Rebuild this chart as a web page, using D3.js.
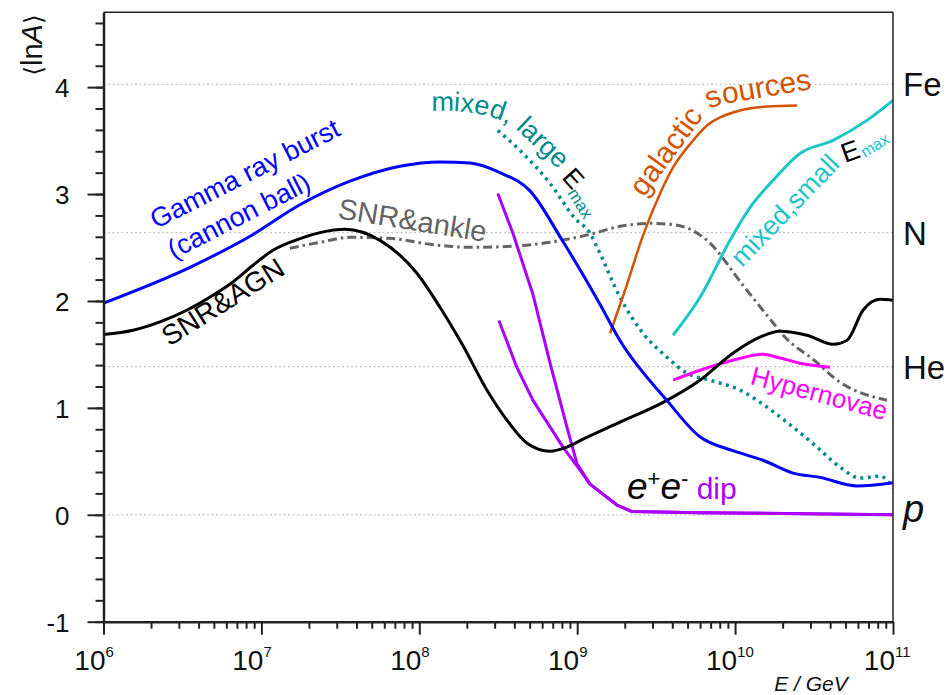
<!DOCTYPE html>
<html>
<head>
<meta charset="utf-8">
<script src="https://cdn.jsdelivr.net/npm/d3@7"></script>
<style>
  body { margin: 0; background: #fff; }
  svg text { font-family: "Liberation Sans", Arial, sans-serif; }
</style>
</head>
<body>
<svg id="chart" width="946" height="695"></svg>
<script>
// values: log10(E/GeV) and <lnA>
const grbLogE = [6.0, 6.548, 6.928, 7.244, 7.561, 7.878, 8.131, 8.321, 8.511, 8.701, 8.904, 9.144, 9.271, 9.568, 9.777, 9.986, 10.177, 10.367, 10.538, 10.772, 11.0];
const grbLnA  = [1.98, 2.315, 2.605, 2.90, 3.12, 3.26, 3.30, 3.29, 3.20, 3.03, 2.57, 1.97, 1.63, 1.07, 0.73, 0.60, 0.51, 0.39, 0.35, 0.27, 0.30];

const snrAgnLogE = [6.0, 6.187, 6.358, 6.527, 6.693, 6.820, 6.947, 7.073, 7.244, 7.371, 7.529, 7.751, 7.985, 8.131, 8.277, 8.429, 8.555, 8.682, 8.828, 8.935, 9.037, 9.271, 9.556, 9.777, 9.986, 10.157, 10.284, 10.455, 10.620, 10.709, 10.810, 10.918, 11.0];
const snrAgnLnA  = [1.686, 1.726, 1.804, 1.913, 2.053, 2.178, 2.334, 2.474, 2.583, 2.639, 2.670, 2.567, 2.259, 1.941, 1.580, 1.165, 0.885, 0.670, 0.595, 0.633, 0.707, 0.866, 1.061, 1.259, 1.511, 1.661, 1.717, 1.679, 1.595, 1.633, 1.913, 2.016, 2.007];

const ankleLogE = [7.180, 7.371, 7.561, 7.814, 8.067, 8.321, 8.574, 8.828, 9.081, 9.271, 9.461, 9.632, 9.822, 10.050, 10.202, 10.329, 10.493, 10.664, 10.962];
const ankleLnA  = [2.493, 2.549, 2.595, 2.586, 2.530, 2.502, 2.511, 2.549, 2.623, 2.698, 2.726, 2.708, 2.567, 2.147, 1.866, 1.642, 1.455, 1.240, 1.072];

const largeLogE = [8.497, 8.637, 8.828, 8.986, 9.081, 9.144, 9.271, 9.417, 9.568, 9.695, 9.841, 10.031, 10.202, 10.367, 10.519, 10.664, 10.791, 10.918, 11.0];
const largeLnA  = [3.595, 3.409, 3.100, 2.773, 2.633, 2.446, 2.035, 1.698, 1.474, 1.324, 1.259, 1.166, 1.007, 0.820, 0.633, 0.446, 0.343, 0.362, 0.250];

const galacticLogE = [9.208, 9.303, 9.417, 9.525, 9.607, 9.734, 9.822, 9.904, 10.031, 10.202, 10.392];
const galacticLnA  = [1.698, 2.100, 2.614, 3.006, 3.249, 3.501, 3.641, 3.716, 3.782, 3.819, 3.829];

const smallLogE = [9.607, 9.778, 9.968, 10.095, 10.240, 10.411, 10.620, 10.835, 11.0];
const smallLnA  = [1.679, 2.034, 2.567, 2.875, 3.128, 3.380, 3.502, 3.689, 3.876];

const hyperLogE = [9.607, 9.778, 9.986, 10.177, 10.265, 10.411, 10.601];
const hyperLnA  = [1.259, 1.352, 1.446, 1.502, 1.474, 1.418, 1.380];

const dipALogE = [8.497, 8.593, 8.720, 8.828, 8.935, 8.998, 9.081, 9.252, 9.347, 9.777, 11.0];
const dipALnA  = [3.005, 2.633, 2.060, 1.418, 0.820, 0.480, 0.287, 0.091, 0.030, 0.020, 0.0];
const dipBLogE = [8.504, 8.618, 8.720, 8.910, 9.018, 9.081, 9.252, 9.347, 9.777, 11.0];
const dipBLnA  = [1.817, 1.378, 1.070, 0.633, 0.418, 0.287, 0.091, 0.030, 0.020, 0.0];

const gridLnA = [Math.log(56), Math.log(14), Math.log(4), 0];
const gridNames = ["Fe", "N", "He", "p"];
const yMajor = [-1, 0, 1, 2, 3, 4];
const xDecades = [6, 7, 8, 9, 10, 11];

const svg = d3.select("#chart");
const x = d3.scaleLog().domain([1e6, 1e11]).range([103.5, 893]);
const y = d3.scaleLinear().domain([-1, 4.7]).range([621.7, 12.3]);

svg.append("clipPath").attr("id", "plot")
  .append("rect").attr("x", 103.5).attr("y", 12.3).attr("width", 893 - 103.5).attr("height", 621.7 - 12.3);

// dotted lines for the nuclei
svg.selectAll(".grid").data(gridLnA).join("line")
  .attr("class", "grid")
  .attr("x1", x(1e6)).attr("x2", x(1e11))
  .attr("y1", d => y(d)).attr("y2", d => y(d))
  .attr("stroke", "#c4c4c4").attr("stroke-width", 1.2)
  .attr("stroke-dasharray", "2,2.5");

const zip = (a, b) => a.map((v, i) => [v, b[i]]);
const series = [
  { pts: zip(ankleLogE, ankleLnA), color: "#646464", w: 3, dash: "9,4,2.5,4", curve: d3.curveMonotoneX },
  { pts: zip(largeLogE, largeLnA), color: "#008a8a", w: 3.5, dash: "3,4.5", curve: d3.curveMonotoneX },
  { pts: zip(galacticLogE, galacticLnA), color: "#d35400", w: 2.5, curve: d3.curveMonotoneX },
  { pts: zip(smallLogE, smallLnA), color: "#1cc6c6", w: 3, curve: d3.curveMonotoneX },
  { pts: zip(hyperLogE, hyperLnA), color: "#ff00ff", w: 3, curve: d3.curveMonotoneX },
  { pts: zip(dipALogE, dipALnA), color: "#aa00ff", w: 3, curve: d3.curveLinear },
  { pts: zip(dipBLogE, dipBLnA), color: "#aa00ff", w: 3, curve: d3.curveLinear },
  { pts: zip(snrAgnLogE, snrAgnLnA), color: "#000000", w: 3, curve: d3.curveMonotoneX },
  { pts: zip(grbLogE, grbLnA), color: "#0000ff", w: 3, curve: d3.curveMonotoneX }
];

const g = svg.append("g").attr("clip-path", "url(#plot)");
series.forEach(s => {
  const line = d3.line()
    .x(d => x(Math.pow(10, d[0])))
    .y(d => y(d[1]))
    .curve(s.curve);
  g.append("path")
    .attr("d", line(s.pts))
    .attr("fill", "none")
    .attr("stroke", s.color)
    .attr("stroke-width", s.w)
    .attr("stroke-dasharray", s.dash || null)
    .attr("stroke-linejoin", "round");
});

// frame: top and right thin
svg.append("line").attr("x1", x(1e6)).attr("x2", x(1e11)).attr("y1", y(4.7)).attr("y2", y(4.7))
  .attr("stroke", "#222").attr("stroke-width", 1.5);
svg.append("line").attr("x1", x(1e11)).attr("x2", x(1e11)).attr("y1", y(4.7)).attr("y2", y(-1))
  .attr("stroke", "#222").attr("stroke-width", 1.5);

// y axis
const yMinor = d3.range(-10, 47, 2).map(d => d / 10);
svg.append("g").attr("transform", `translate(${x(1e6)},0)`)
  .call(d3.axisLeft(y).tickValues(yMinor).tickSize(8).tickSizeOuter(0).tickFormat(""))
  .call(a => a.select(".domain").attr("stroke-width", 2.5).attr("stroke", "#222"))
  .call(a => a.selectAll(".tick line").attr("stroke-width", 2).attr("stroke", "#222"));
svg.append("g").attr("transform", `translate(${x(1e6)},0)`)
  .call(d3.axisLeft(y).tickValues(yMajor).tickSize(16).tickSizeOuter(0).tickPadding(18).tickFormat(d => String(d)))
  .call(a => a.select(".domain").remove())
  .call(a => a.selectAll(".tick line").attr("stroke-width", 2).attr("stroke", "#222"))
  .call(a => a.selectAll(".tick text").attr("font-size", 26).attr("fill", "#111")
    .attr("font-family", "'Liberation Sans', Arial, sans-serif").attr("dy", "0.36em"));

// x axis
const xMinor = [];
xDecades.slice(0, -1).forEach(d => { for (let k = 2; k <= 9; k++) xMinor.push(k * Math.pow(10, d)); });
const xMajor = xDecades.map(d => Math.pow(10, d));
svg.append("g").attr("transform", `translate(0,${y(-1)})`)
  .call(d3.axisBottom(x).tickValues(xMinor).tickSize(7).tickSizeOuter(0).tickFormat(""))
  .call(a => a.select(".domain").attr("stroke-width", 2.5).attr("stroke", "#222"))
  .call(a => a.selectAll(".tick line").attr("stroke-width", 2).attr("stroke", "#222"));
svg.append("g").attr("transform", `translate(0,${y(-1)})`)
  .call(d3.axisBottom(x).tickValues(xMajor).tickSize(13).tickSizeOuter(0).tickFormat(""))
  .call(a => a.select(".domain").remove())
  .call(a => a.selectAll(".tick line").attr("stroke-width", 2).attr("stroke", "#222"));

const xl = svg.selectAll(".xlab").data(xDecades).join("g").attr("class", "xlab");
xl.append("text").attr("x", d => x(Math.pow(10, d)) + 2).attr("y", 670)
  .attr("text-anchor", "end").attr("font-size", 28).attr("fill", "#111").text("10");
xl.append("text").attr("x", d => x(Math.pow(10, d)) + 2).attr("y", 657)
  .attr("text-anchor", "start").attr("font-size", 15).attr("fill", "#111").text(d => d);

// right side nuclei labels
svg.selectAll(".nuc").data(gridNames).join("text")
  .attr("class", "nuc")
  .attr("x", 903)
  .attr("y", (d, i) => y(gridLnA[i]) + (d === "p" ? 7 : 12))
  .attr("font-size", d => d === "p" ? 38 : 33)
  .attr("font-style", d => d === "p" ? "italic" : null)
  .attr("fill", "#111")
  .text(d => d);

// axis titles
const yt = svg.append("text").attr("transform", "translate(42,45) rotate(-90)")
  .attr("text-anchor", "middle").attr("font-size", 29).attr("fill", "#111");
yt.append("tspan").attr("font-family", "'DejaVu Sans', sans-serif").attr("font-size", 25).text("\u27E8");
yt.append("tspan").text("ln");
yt.append("tspan").attr("font-style", "italic").text("A");
yt.append("tspan").attr("font-family", "'DejaVu Sans', sans-serif").attr("font-size", 25).text("\u27E9");

svg.append("text").attr("x", 811).attr("y", 691).attr("text-anchor", "middle")
  .attr("font-size", 21).attr("font-style", "italic").attr("fill", "#111").text("E / GeV");

// curve labels
function note(px, py, angle, size, color, txt) {
  return svg.append("text")
    .attr("transform", `translate(${px},${py}) rotate(${angle})`)
    .attr("text-anchor", "middle").attr("font-size", size).attr("fill", color).text(txt);
}
note(249, 182, -27, 27, "#0000ff", "Gamma ray burst");
note(243, 224, -27, 27, "#0000ff", "(cannon ball)");
note(228, 310, -32, 28, "#000", "SNR&AGN");
note(411, 230, 9, 29, "#646464", "SNR&ankle");
note(817, 402, 15, 26, "#ff00ff", "Hypernovae");

// mixed, large E_max along an arc
svg.append("path").attr("id", "arcLarge").attr("d", "M431,111 Q488,109 516,129 L575,185").attr("fill", "none");
svg.append("text").attr("font-size", 27).attr("fill", "#008a8a")
  .append("textPath").attr("href", "#arcLarge").text("mixed, large");
svg.append("text").attr("transform", "translate(561,178) rotate(48)")
  .attr("font-size", 26).attr("fill", "#000").text("E");
svg.append("text").attr("transform", "translate(567,193) rotate(58)")
  .attr("font-size", 17).attr("fill", "#008a8a").text("max");

// galactic sources along a bent path
svg.append("path").attr("id", "arcGal").attr("d", "M644,198 L703,117 Q711,106 724,104 L835,85").attr("fill", "none");
svg.append("text").attr("font-size", 30).attr("fill", "#d35400")
  .append("textPath").attr("href", "#arcGal").text("galactic sources");

// mixed, small E_max
svg.append("text").attr("transform", "translate(742,268) rotate(-46)")
  .attr("font-size", 27).attr("fill", "#1cc6c6").text("mixed,small");
svg.append("text").attr("transform", "translate(845,163) rotate(-20)")
  .attr("font-size", 27).attr("fill", "#000").text("E");
svg.append("text").attr("transform", "translate(865,158) rotate(-32)")
  .attr("font-size", 16).attr("fill", "#1cc6c6").text("max");

// e+e- dip
const dip = svg.append("text").attr("x", 627).attr("y", 499).attr("font-size", 37).attr("fill", "#000");
dip.append("tspan").attr("font-style", "italic").text("e");
dip.append("tspan").attr("font-size", 22).attr("dy", -13).text("+");
dip.append("tspan").attr("font-style", "italic").attr("dy", 13).text("e");
dip.append("tspan").attr("font-size", 22).attr("dy", -13).text("-");
dip.append("tspan").attr("font-size", 30).attr("fill", "#aa00ff").attr("dy", 13).text(" dip");
</script>
</body>
</html>
